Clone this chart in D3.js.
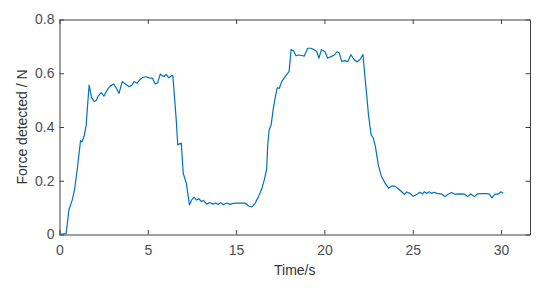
<!doctype html>
<html>
<head>
<meta charset="utf-8">
<script src="https://d3js.org/d3.v7.min.js"></script>
<style>
  body { margin: 0; background: #fff; }
  text { font-family: "Liberation Sans", Arial, Helvetica, sans-serif; }
  .axis path, .axis line { stroke: #404040; }
  .axis text { fill: #4d4d4d; font-size: 14px; }
</style>
</head>
<body>
<svg id="chart" width="550" height="290"></svg>
<script>
// tick labels as printed on the chart (label "10" is absent, ticks are evenly spaced)
var xTicks = [0, 5, 15, 20, 25, 30];
var yTicks = [0, 0.2, 0.4, 0.6, 0.8];
var xMax = 31.64;

// time (s, in axis-label units) and detected force (N)
var time = [0, 0.23, 0.38, 0.53, 0.72, 0.85, 1.00, 1.19, 1.28, 1.41,
  1.51, 1.60, 1.68, 1.81, 1.96, 2.08, 2.19, 2.36, 2.52, 2.70,
  2.88, 3.07, 3.22, 3.37, 3.55, 3.73, 3.94, 4.11, 4.22, 4.39,
  4.55, 4.73, 4.89, 5.17, 5.53, 5.83, 6.11, 6.41, 6.66, 6.84,
  7.07, 7.38, 7.66, 7.83, 8.05, 8.22, 8.39, 8.56, 8.79, 9.01,
  9.36, 9.72, 9.95, 10.24, 10.54, 10.80, 11.07, 11.30, 11.67, 12.05,
  12.39, 12.69, 12.95, 13.26, 13.56, 13.94, 14.31, 14.65, 15.03, 15.23,
  15.51, 15.70, 15.89, 16.07, 16.26, 16.45, 16.61, 16.73, 16.79, 16.87,
  16.98, 17.11, 17.24, 17.33, 17.45, 17.58, 17.73, 17.87, 18.00, 18.11,
  18.25, 18.39, 18.52, 18.71, 18.86, 19.05, 19.24, 19.43, 19.56, 19.69,
  19.83, 20.03, 20.19, 20.37, 20.57, 20.71, 20.84, 20.98, 21.17, 21.32,
  21.50, 21.67, 21.84, 22.04, 22.18, 22.29, 22.39, 22.49, 22.64, 22.77,
  22.89, 23.05, 23.22, 23.40, 23.63, 23.81, 23.98, 24.18, 24.37, 24.53,
  24.66, 24.84, 25.03, 25.22, 25.41, 25.55, 25.66, 25.80, 25.93, 26.07,
  26.20, 26.37, 26.65, 26.83, 27.00, 27.20, 27.39, 27.67, 27.93, 28.11,
  28.29, 28.49, 28.67, 28.90, 29.18, 29.34, 29.48, 29.66, 29.83, 30.00,
  30.13];
var force = [0, 0.002, 0.004, 0.091, 0.128, 0.166, 0.240, 0.349, 0.345, 0.370,
  0.407, 0.489, 0.556, 0.510, 0.495, 0.499, 0.515, 0.528, 0.515, 0.538,
  0.553, 0.560, 0.544, 0.525, 0.569, 0.560, 0.550, 0.556, 0.569, 0.563,
  0.576, 0.585, 0.587, 0.583, 0.581, 0.560, 0.564, 0.597, 0.590, 0.588,
  0.596, 0.583, 0.590, 0.592, 0.500, 0.426, 0.333, 0.337, 0.340, 0.228,
  0.191, 0.110, 0.128, 0.138, 0.128, 0.133, 0.122, 0.127, 0.113, 0.119,
  0.113, 0.117, 0.112, 0.118, 0.111, 0.117, 0.112, 0.116, 0.117, 0.117,
  0.117, 0.106, 0.103, 0.115, 0.140, 0.169, 0.207, 0.244, 0.333, 0.389,
  0.407, 0.470, 0.519, 0.546, 0.544, 0.569, 0.583, 0.596, 0.606, 0.688,
  0.684, 0.665, 0.668, 0.666, 0.664, 0.693, 0.693, 0.687, 0.681, 0.656,
  0.688, 0.680, 0.656, 0.662, 0.668, 0.680, 0.676, 0.644, 0.647, 0.643,
  0.669, 0.652, 0.642, 0.653, 0.670, 0.590, 0.523, 0.448, 0.372, 0.358,
  0.326, 0.259, 0.218, 0.195, 0.172, 0.180, 0.180, 0.170, 0.159, 0.149,
  0.158, 0.153, 0.142, 0.149, 0.157, 0.151, 0.159, 0.153, 0.159, 0.153,
  0.157, 0.153, 0.150, 0.141, 0.150, 0.156, 0.150, 0.151, 0.150, 0.141,
  0.151, 0.141, 0.151, 0.152, 0.152, 0.150, 0.136, 0.150, 0.150, 0.159,
  0.153];

var svg = d3.select("#chart"),
    margin = {left: 59.5, top: 19.5, right: 20, bottom: 55.5},
    width = 550 - margin.left - margin.right,
    height = 290 - margin.top - margin.bottom;

// evenly spaced ticks, so the x scale is piecewise through the tick labels
var step = width / ((xTicks.length - 1) + (xMax - xTicks[xTicks.length - 1]) / 5);
var xDomain = xTicks.concat([xMax]);
var xRange = xTicks.map(function(d, i) { return i * step; }).concat([width]);
var x = d3.scaleLinear().domain(xDomain).range(xRange);
var y = d3.scaleLinear().domain([0, 0.8]).range([height, 0]);

var g = svg.append("g")
    .attr("transform", "translate(" + margin.left + "," + margin.top + ")");

var tick = 4.5;

g.append("g")
 .attr("class", "axis")
 .attr("transform", "translate(0," + height + ")")
 .call(d3.axisBottom(x).tickValues(xTicks).tickSizeInner(-tick).tickSizeOuter(0).tickPadding(11));

g.append("g")
 .attr("class", "axis")
 .call(d3.axisTop(x).tickValues(xTicks).tickSizeInner(-tick).tickSizeOuter(0).tickFormat(""));

g.append("g")
 .attr("class", "axis")
 .call(d3.axisLeft(y).tickValues(yTicks).tickSizeInner(-tick).tickSizeOuter(0).tickPadding(5)
   .tickFormat(function(d) { return d === 0 ? "0" : d3.format(".1f")(d); }));

g.append("g")
 .attr("class", "axis")
 .attr("transform", "translate(" + width + ",0)")
 .call(d3.axisRight(y).tickValues(yTicks).tickSizeInner(-tick).tickSizeOuter(0).tickFormat(""));

var data = time.map(function(t, i) { return {t: t, f: force[i]}; });

g.append("path")
 .datum(data)
 .attr("fill", "none")
 .attr("stroke", "#0072BD")
 .attr("stroke-width", 1.2)
 .attr("stroke-linejoin", "round")
 .attr("d", d3.line()
   .x(function(d) { return x(d.t); })
   .y(function(d) { return y(d.f); }));

svg.append("text")
 .attr("x", margin.left + width / 2)
 .attr("y", 275)
 .attr("text-anchor", "middle")
 .attr("font-size", "14px")
 .attr("fill", "#333")
 .text("Time/s");

svg.append("text")
 .attr("transform", "translate(27," + (margin.top + height / 2) + ") rotate(-90)")
 .attr("text-anchor", "middle")
 .attr("font-size", "14px")
 .attr("fill", "#333")
 .text("Force detected / N");
</script>
</body>
</html>
